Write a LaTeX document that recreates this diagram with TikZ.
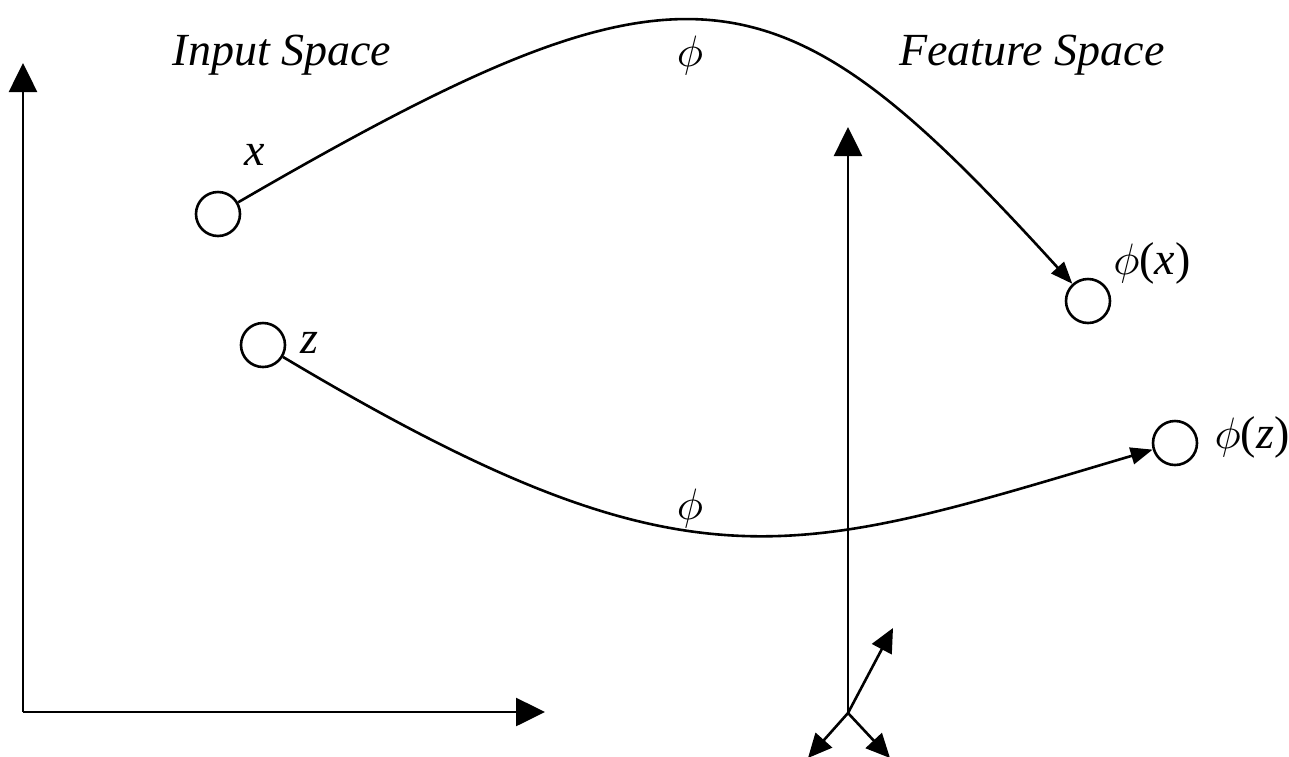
\documentclass[tikz,border=0pt]{standalone}
\usepackage{graphicx}
\usepackage{fontspec}
\setmainfont{Liberation Serif}
\usetikzlibrary{arrows.meta}
\newcommand{\bigphi}{\scalebox{4.4}{\normalsize$\phi$}}

\begin{document}
\begin{tikzpicture}[x=1pt,y=-1pt,
  axis/.style={line width=2.6pt, -{Triangle[length=29pt,width=28pt]}},
  small axis/.style={line width=2.6pt, -{Triangle[length=24pt,width=22pt]}},
  mapping/.style={line width=2.6pt, -{Triangle[length=22pt,width=17pt]}},
  point/.style={circle, draw, line width=2.6pt, minimum size=44pt, inner sep=0pt},
  lbl/.style={font=\fontsize{46}{50}\selectfont\itshape, inner sep=0pt}]
\useasboundingbox (0,0) rectangle (1289,756);
% input space axes
\coordinate (in0) at (23,712);
\coordinate (iny) at (23,63);
\coordinate (inx) at (545,712);
\draw[axis] (in0) -- (iny);
\draw[axis] (in0) -- (inx);
% feature space axes
\coordinate (ft0) at (848,713);
\coordinate (fty) at (848,127);
\coordinate (ftu) at (893,628);
\coordinate (ftl) at (808,758);
\coordinate (ftr) at (890,758);
\draw[axis] (ft0) -- (fty);
\draw[small axis] (ft0) -- (ftu);
\draw[small axis] (ft0) -- (ftl);
\draw[small axis] (ft0) -- (ftr);
% titles
\node[lbl] (intitle) at (282,55) {Input Space};
\node[lbl] (fttitle) at (1032,55) {Feature Space};
% points
\node[point] (ptx) at (218,214) {};
\node[point] (ptz) at (263,345) {};
\node[point] (fx) at (1088,301) {};
\node[point] (fz) at (1175,443) {};
\node[lbl] (lx) at (255,155) {x};
\node[lbl] (lz) at (309,343) {z};
\node[lbl, font=\fontsize{46}{50}\selectfont] (lfx) at (1152,263) {\bigphi(\textit{x})};
\node[lbl, font=\fontsize{46}{50}\selectfont] (lfz) at (1252,437) {\bigphi(\textit{z})};
% mappings
\draw[mapping] (ptx) .. controls (690,-60) and (775,-43) .. (fx);
\draw[mapping] (ptz) .. controls (690,600) and (790,557) .. (fz);
\node[lbl] (phitop) at (690,55) {\bigphi};
\node[lbl] (phibot) at (690,508) {\bigphi};
\end{tikzpicture}
\end{document}
